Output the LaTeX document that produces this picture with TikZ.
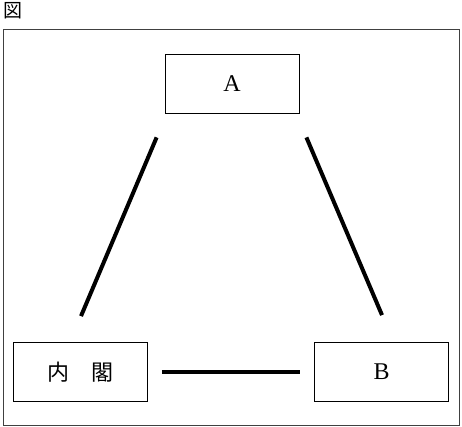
\documentclass[tikz,border=0pt]{standalone}
\usepackage{fontspec}
\usepackage{tikz}
\usetikzlibrary{positioning,calc}
\setmainfont{Liberation Serif}
\newfontfamily\jpfont{Noto Sans CJK JP}

\begin{document}
\begin{tikzpicture}[
      x=1pt,y=-1pt,
      boxnode/.style={draw,line width=0.8pt,rectangle,inner sep=0pt,
        minimum width=134pt,minimum height=59pt,font=\fontsize{24}{26}\selectfont},
      bar/.style={line width=4pt}
    ]
    \useasboundingbox (0,0) rectangle (462,427);

    % frame and title
    \draw[line width=1pt,black!75] (3,30) rectangle (459,425);
    \node[anchor=north west,inner sep=0pt,font=\jpfont\fontsize{19}{19}\selectfont] (title) at (3,2) {図};

    % the three boxes
    \node[boxnode] (a) at (232,83.5) {A};
    \node[boxnode,font=\jpfont\fontsize{22}{26}\selectfont] (cab) at (80.5,372) {内　閣};
    \node[boxnode,right=301pt of cab.center,anchor=center] (b) {B};

    % the bars
    \draw[bar] ($(a.south west)+(-8,24)$) -- ($(cab.north)+(0.5,-26)$);
    \draw[bar] ($(a.south east)+(7,24)$) -- ($(b.north)+(0.5,-27)$);
    \draw[bar] ($(cab.east)+(14,0)$) -- ($(b.west)+(-14,0)$);
\end{tikzpicture}
\end{document}
